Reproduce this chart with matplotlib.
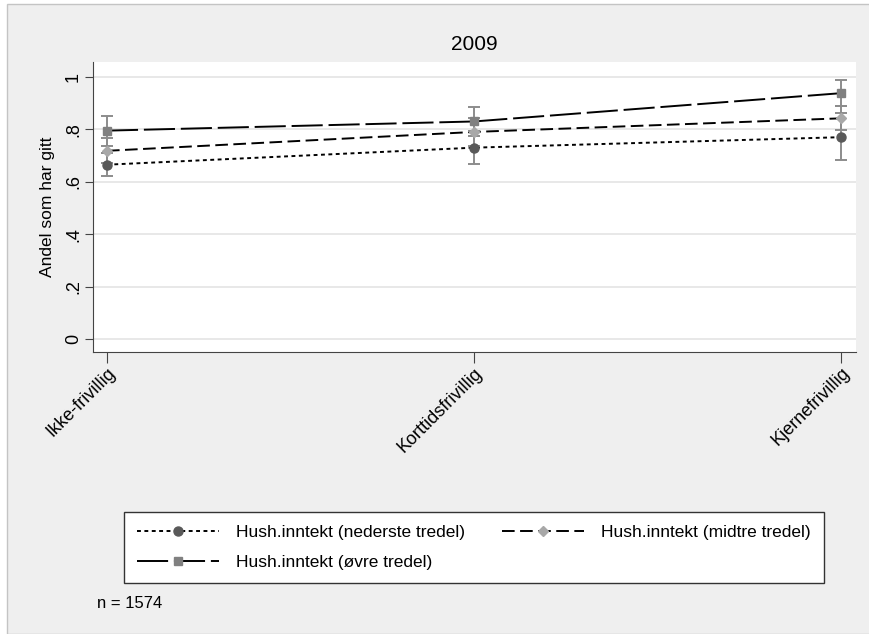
import matplotlib
matplotlib.use("Agg")
import matplotlib.pyplot as plt
from matplotlib.lines import Line2D
from matplotlib.patches import Rectangle

# =========================
# Data
# =========================
categories = ["Ikke-frivillig", "Korttidsfrivillig", "Kjernefrivillig"]

low_mean = [0.665, 0.730, 0.770]
low_lo = [0.622, 0.668, 0.683]
low_hi = [0.708, 0.792, 0.862]

mid_mean = [0.718, 0.790, 0.842]
mid_lo = [0.672, 0.735, 0.797]
mid_hi = [0.765, 0.845, 0.888]

high_mean = [0.795, 0.830, 0.938]
high_lo = [0.737, 0.775, 0.890]
high_hi = [0.852, 0.887, 0.988]

series_labels = ["Hush.inntekt (nederste tredel)",
                 "Hush.inntekt (midtre tredel)",
                 "Hush.inntekt (øvre tredel)"]
y_ticks = [0, 0.2, 0.4, 0.6, 0.8, 1.0]
y_tick_labels = ["0", ".2", ".4", ".6", ".8", "1"]

plt.rcParams['font.family'] = ['Liberation Sans', 'DejaVu Sans']

# =========================
# Plot
# =========================
fig = plt.figure(figsize=(8.69, 6.34), dpi=100, facecolor="white")
bg = Rectangle((7 / 869, 0), 1, 1 - 4 / 634, transform=fig.transFigure,
               facecolor="#efefef", edgecolor="#c4c4c4", linewidth=1.0,
               zorder=-10)
fig.add_artist(bg)

ax = fig.add_axes([93 / 869, 1 - 352 / 634, (856 - 93) / 869, (352 - 62) / 634])
ax.set_facecolor("white")
ax.set_zorder(1)

x = list(range(len(categories)))

styles = [
    (low_mean, low_lo, low_hi, "o", "#595959", (0, (2.0, 1.8)), 6.5),
    (mid_mean, mid_lo, mid_hi, "D", "#a8a8a8", (0, (6.5, 2.8)), 5.5),
    (high_mean, high_lo, high_hi, "s", "#808080", (0, (16, 3)), 6.0),
]

handles = []
for (mean, lo, hi, mk, col, ls, ms), lab in zip(styles, series_labels):
    yerr = [[m - l for m, l in zip(mean, lo)], [h - m for m, h in zip(mean, hi)]]
    ax.errorbar(x, mean, yerr=yerr, fmt="none", ecolor="#8c8c8c",
                elinewidth=1.4, capsize=4, capthick=1.4, zorder=3)
    ax.plot(x, mean, color="black", linestyle=ls, linewidth=1.4, zorder=2)
    ax.plot(x, mean, linestyle="none", marker=mk, markersize=ms,
            color=col, zorder=4)
    handles.append(Line2D([0], [0], color="black", linestyle=ls, linewidth=1.4,
                          marker=mk, markersize=ms, markerfacecolor=col,
                          markeredgecolor=col, label=lab))

ax.set_xlim(-0.038, 2.041)
ax.set_ylim(-0.05, 1.057)
ax.set_yticks(y_ticks)
ax.set_yticklabels(y_tick_labels, rotation=90, va="center", fontsize=13)
ax.set_xticks(x)
ax.set_xticklabels(categories, rotation=45, ha="right",
                   rotation_mode="anchor", fontsize=13)
ax.grid(axis="y", color="#e6e6e6", linewidth=1.3)
ax.set_axisbelow(True)

for s in ["top", "right"]:
    ax.spines[s].set_visible(False)
ax.spines["left"].set_color("#444444")
ax.spines["bottom"].set_color("#444444")
ax.tick_params(axis="y", length=6, color="#444444", pad=2)
ax.tick_params(axis="x", length=8, color="#444444", pad=1)

ax.set_ylabel("Andel som har gitt", fontsize=12.5, labelpad=7)
ax.set_title("2009", fontsize=15, pad=9)

# column-wise fill: put items so rows read nederste, midtre / øvre
leg_order = [handles[0], handles[2], handles[1]]
fig.legend(handles=leg_order, ncol=2, loc="lower left", mode="expand",
           bbox_to_anchor=(124 / 869, 1 - 583 / 634, 700 / 869, 70 / 634),
           borderaxespad=0, fontsize=12.5, handlelength=4.7, handletextpad=1.0,
           frameon=True, fancybox=False, edgecolor="#333333",
           facecolor="white", framealpha=1, borderpad=0.75, labelspacing=0.85)

fig.text(97 / 869, 1 - 604 / 634, "n = 1574", fontsize=12, va="center")

fig.savefig("out.png", dpi=100, facecolor=fig.get_facecolor())
